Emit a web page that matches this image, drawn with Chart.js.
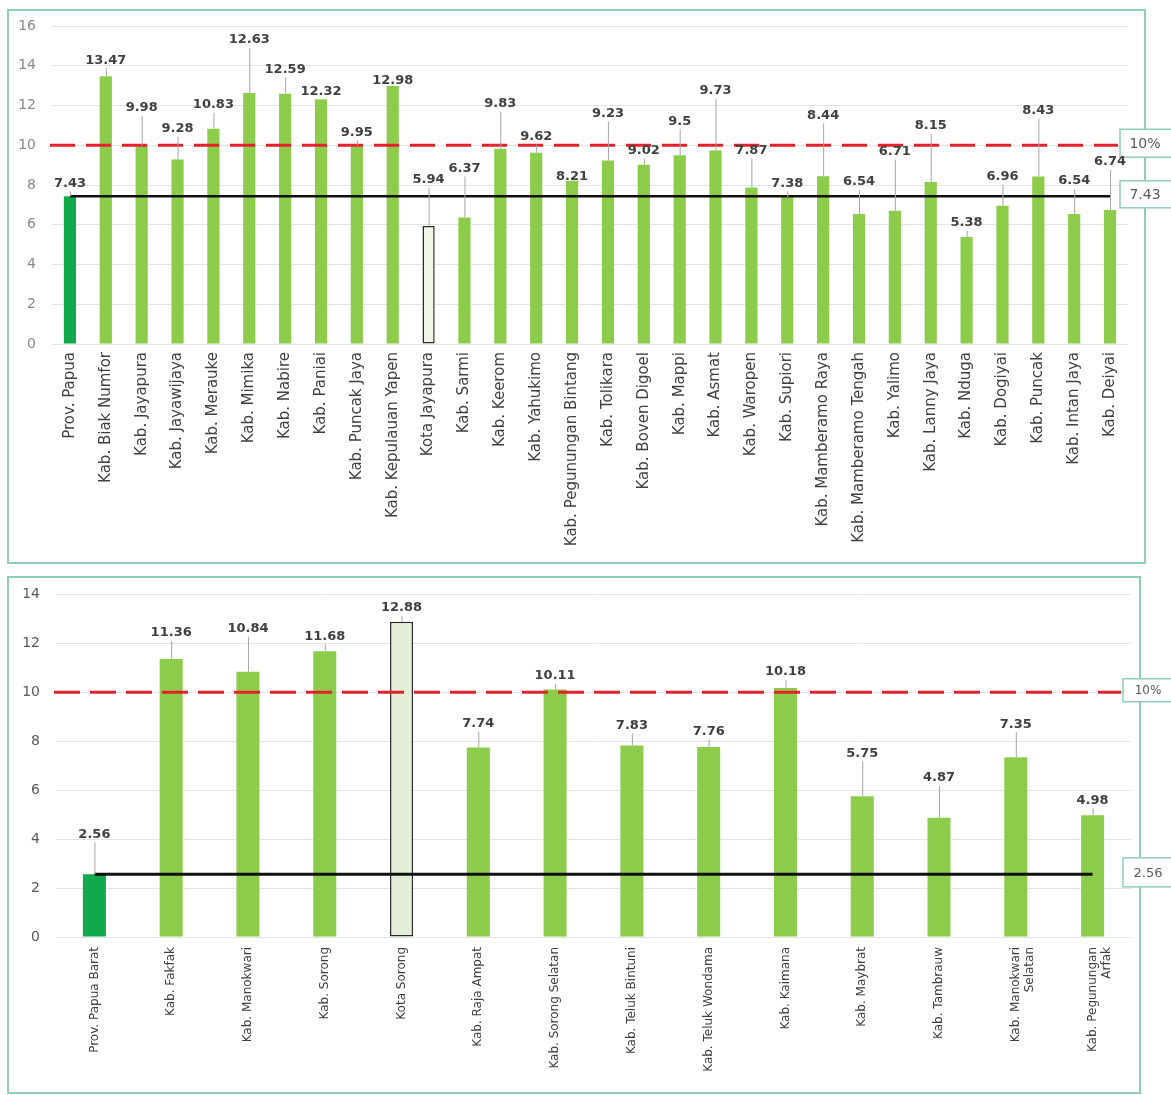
<!DOCTYPE html>
<html><head><meta charset="utf-8">
<script src="https://cdn.jsdelivr.net/npm/chart.js@4/dist/chart.umd.min.js"></script>
<style>
html,body{margin:0;padding:0;background:#fff;}
body{width:1171px;height:1095px;position:relative;overflow:hidden;}
.wrap{position:absolute;left:0;width:1171px;}
#w1{top:0;height:570px;}
#w2{top:570px;height:525px;}
canvas{display:block;}
</style></head><body>
<div class="wrap" id="w1"><canvas id="c1" width="1171" height="570"></canvas></div>
<div class="wrap" id="w2"><canvas id="c2" width="1171" height="525"></canvas></div>
<script>
// ---------- DATA ----------
const papuaCategories = ['Prov. Papua','Kab. Biak Numfor','Kab. Jayapura','Kab. Jayawijaya','Kab. Merauke','Kab. Mimika','Kab. Nabire','Kab. Paniai','Kab. Puncak Jaya','Kab. Kepulauan Yapen','Kota Jayapura','Kab. Sarmi','Kab. Keerom','Kab. Yahukimo','Kab. Pegunungan Bintang','Kab. Tolikara','Kab. Boven Digoel','Kab. Mappi','Kab. Asmat','Kab. Waropen','Kab. Supiori','Kab. Mamberamo Raya','Kab. Mamberamo Tengah','Kab. Yalimo','Kab. Lanny Jaya','Kab. Nduga','Kab. Dogiyai','Kab. Puncak','Kab. Intan Jaya','Kab. Deiyai'];
const papuaValues = [7.43,13.47,9.98,9.28,10.83,12.63,12.59,12.32,9.95,12.98,5.94,6.37,9.83,9.62,8.21,9.23,9.02,9.5,9.73,7.87,7.38,8.44,6.54,6.71,8.15,5.38,6.96,8.43,6.54,6.74];
const papuaYTicks = [0,2,4,6,8,10,12,14,16];

const papuaBaratCategories = ['Prov. Papua Barat','Kab. Fakfak','Kab. Manokwari','Kab. Sorong','Kota Sorong','Kab. Raja Ampat','Kab. Sorong Selatan','Kab. Teluk Bintuni','Kab. Teluk Wondama','Kab. Kaimana','Kab. Maybrat','Kab. Tambrauw',['Kab. Manokwari','Selatan'],['Kab. Pegunungan','Arfak']];
const papuaBaratValues = [2.56,11.36,10.84,11.68,12.88,7.74,10.11,7.83,7.76,10.18,5.75,4.87,7.35,4.98];
const papuaBaratYTicks = [0,2,4,6,8,10,12,14];

const thresholdValue = 10;
const thresholdLabel = '10%';

// label placement (pixels above bar top, style only)
const papuaLabelLift = [13,16,38,31,24,53,24,8,14,5,46,49,45,16,4,47,14,34,60,37,14,61,32,59,56,14,29,66,33,48];
const papuaBaratLabelLift = [40,26,43,15,14,24,14,20,15,16,43,40,33,15];

// ---------- STYLE ----------
const FONT = "'DejaVu Sans', sans-serif";
const GREEN = '#8dcb4b', DARK = '#12a84c';

function nameOf(c){ return Array.isArray(c) ? c.join(' ') : c; }
function barFill(c, kotaFill){ const n = nameOf(c); return n.startsWith('Prov.') ? DARK : (n.startsWith('Kota') ? kotaFill : GREEN); }
function barBorder(c){ return nameOf(c).startsWith('Kota') ? '#2a2a2a' : 'rgba(0,0,0,0)'; }
function barBorderW(c){ return nameOf(c).startsWith('Kota') ? 1.5 : 0; }

const overlayPlugin = {
  id: 'overlay',
  beforeDraw(chart, args, o) {
    const ctx = chart.ctx;
    ctx.save();
    ctx.strokeStyle = '#8fcfb3'; ctx.lineWidth = 2;
    ctx.strokeRect(o.panel[0], o.panel[1], o.panel[2], o.panel[3]);
    ctx.restore();
  },
  afterDatasetsDraw(chart, args, o) {
    const ctx = chart.ctx, ys = chart.scales.y, area = chart.chartArea;
    const meta = chart.getDatasetMeta(0);
    const values = chart.data.datasets[0].data;
    const boxLeft = area.right - 8;
    const yT = ys.getPixelForValue(o.threshold);
    const yR = ys.getPixelForValue(values[0]);
    ctx.save();
    // threshold dashed line
    ctx.strokeStyle = '#e3222b'; ctx.lineWidth = 3; ctx.setLineDash(o.dash);
    ctx.beginPath(); ctx.moveTo(area.left - 2, yT); ctx.lineTo(boxLeft - 2, yT); ctx.stroke();
    // provincial reference line
    ctx.setLineDash([]); ctx.strokeStyle = '#111'; ctx.lineWidth = o.refWidth;
    ctx.beginPath(); ctx.moveTo(meta.data[0].x, yR); ctx.lineTo(meta.data[meta.data.length-1].x, yR); ctx.stroke();
    // boxes
    const drawBox = (yc, h, txt, fs) => {
      ctx.fillStyle = '#fff'; ctx.strokeStyle = '#8fcfb3'; ctx.lineWidth = 1.5;
      ctx.fillRect(boxLeft, yc - h/2, 60, h);
      ctx.strokeRect(boxLeft, yc - h/2, 60, h);
      ctx.fillStyle = '#595959'; ctx.font = fs + 'px ' + FONT;
      ctx.textAlign = 'center'; ctx.textBaseline = 'middle';
      ctx.fillText(txt, boxLeft + 25, yc + 1);
    };
    drawBox(yT - 2, o.boxH[0], o.thresholdLabel, o.boxFont[0]);
    drawBox(yR - 2, o.boxH[1], String(values[0]), o.boxFont[1]);
    // data labels with leader lines
    meta.data.forEach((bar, i) => {
      const lift = o.lifts[i];
      const ly = bar.y - lift;
      if (lift - 8 > 3) {
        ctx.strokeStyle = '#a6a6a6'; ctx.lineWidth = 1;
        ctx.beginPath(); ctx.moveTo(bar.x + 0.5, ly + 8); ctx.lineTo(bar.x + 0.5, bar.y); ctx.stroke();
      }
      ctx.fillStyle = '#404040'; ctx.font = 'bold 13px ' + FONT;
      ctx.textAlign = 'center'; ctx.textBaseline = 'middle';
      ctx.fillText(String(values[i]), bar.x, ly);
    });
    ctx.restore();
  }
};

function makeChart(id, g) {
  return new Chart(document.getElementById(id), {
    type: 'bar',
    data: {
      labels: g.categories,
      datasets: [{
        data: g.values,
        backgroundColor: g.categories.map(c => barFill(c, g.kotaFill)),
        borderColor: g.categories.map(barBorder),
        borderWidth: g.categories.map(barBorderW),
        borderSkipped: false,
        barPercentage: g.barPct,
        categoryPercentage: 1
      }]
    },
    options: {
      responsive: false, animation: false, devicePixelRatio: 1,
      layout: { padding: { left: 0, right: g.padRight, top: g.padTop, bottom: 0 } },
      plugins: {
        legend: { display: false }, tooltip: { enabled: false },
        overlay: { panel: g.panel, threshold: thresholdValue, thresholdLabel: thresholdLabel,
          dash: g.dash, refWidth: g.refWidth, lifts: g.lifts, boxH: g.boxH, boxFont: g.boxFont }
      },
      scales: {
        x: {
          grid: { display: false, drawTicks: false }, border: { display: false },
          ticks: { autoSkip: false, minRotation: 90, maxRotation: 90, padding: g.xPad,
            color: '#404040', font: { family: FONT, size: g.xFont } },
          afterFit(s) { s.height = g.xHeight; }
        },
        y: {
          min: 0, max: g.yTicks[g.yTicks.length-1],
          afterBuildTicks(s) { s.ticks = g.yTicks.map(v => ({ value: v })); },
          grid: { color: '#e3e3e3', lineWidth: 1, drawTicks: false }, border: { display: false },
          ticks: { padding: 16, color: g.yColor, font: { family: FONT, size: 14 } },
          afterFit(s) { s.width = g.yWidth; }
        }
      }
    },
    plugins: [overlayPlugin]
  });
}

makeChart('c1', {
  categories: papuaCategories, values: papuaValues, lifts: papuaLabelLift, yTicks: papuaYTicks,
  kotaFill: '#f1f6e4', barPct: 0.34, padRight: 43, padTop: 26, yWidth: 52, xHeight: 226,
  xPad: 8, xFont: 15, yColor: '#8a8a8a', panel: [8, 10, 1137, 553],
  dash: [25, 11], refWidth: 2.5, boxH: [28, 27], boxFont: [14, 14]
});
makeChart('c2', {
  categories: papuaBaratCategories, values: papuaBaratValues, lifts: papuaBaratLabelLift, yTicks: papuaBaratYTicks,
  kotaFill: '#e3eed6', barPct: 0.30, padRight: 40, padTop: 22, yWidth: 56, xHeight: 158,
  xPad: 10, xFont: 12, yColor: '#595959', panel: [8, 7, 1132, 516],
  dash: [26, 10], refWidth: 3, boxH: [23, 29], boxFont: [12, 13]
});
</script>
</body></html>
